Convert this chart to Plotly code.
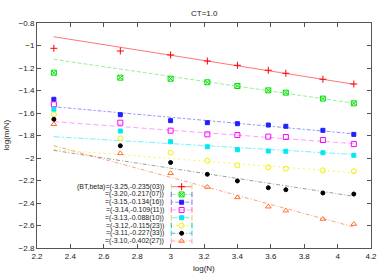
import plotly.graph_objects as go

logN = [2.301, 2.699, 3.0, 3.22, 3.40, 3.585, 3.69, 3.912, 4.097]

red_y = [-1.025, -1.049, -1.084, -1.138, -1.176, -1.220, -1.247, -1.300, -1.342]
green_y = [-1.242, -1.286, -1.295, -1.327, -1.360, -1.399, -1.419, -1.472, -1.514]
blue_y = [-1.478, -1.615, -1.668, -1.686, -1.695, -1.707, -1.718, -1.754, -1.790]
magenta_y = [-1.523, -1.686, -1.757, -1.790, -1.796, -1.810, -1.813, -1.840, -1.876]
cyan_y = [-1.567, -1.760, -1.855, -1.900, -1.926, -1.938, -1.940, -1.953, -1.976]
yellow_y = [-1.612, -1.825, -1.953, -2.024, -2.065, -2.083, -2.095, -2.110, -2.118]
black_y = [-1.656, -1.891, -2.040, -2.145, -2.204, -2.264, -2.282, -2.311, -2.320]
orange_y = [-1.700, -1.959, -2.136, -2.258, -2.350, -2.433, -2.468, -2.542, -2.587]

BT = ["-3.25", "-3.20", "-3.15", "-3.14", "-3.13", "-3.12", "-3.11", "-3.10"]
beta_label = ["-0.235(03)", "-0.217(07)", "-0.134(16)", "-0.109(11)",
              "-0.088(10)", "-0.115(23)", "-0.227(33)", "-0.402(27)"]
beta = [-0.235, -0.217, -0.134, -0.109, -0.088, -0.115, -0.227, -0.402]
intercept = [-0.3815, -0.624, -1.236, -1.426, -1.608, -1.660, -1.410, -0.966]
fit_x = [2.3, 4.1]

series_y = [red_y, green_y, blue_y, magenta_y, cyan_y, yellow_y, black_y, orange_y]
colors = ["#ff0000", "#00e000", "#2020ff", "#ff00ff", "#00e8f0", "#f0f000", "#000000", "#ff7030"]
line_colors = ["rgba(255,60,60,0.7)", "rgba(60,230,60,0.55)", "rgba(60,60,255,0.55)",
               "rgba(255,60,255,0.5)", "rgba(0,230,240,0.55)", "rgba(240,240,0,0.65)",
               "rgba(90,90,90,0.6)", "rgba(255,110,50,0.65)"]
dashes = ["solid", "4px,2px", "2px,2px,4px,2px", "5px,3px", "6px,2px,2px,2px",
          "2px,3px", "4px,2px,1px,2px", "4px,2px,1px,2px"]
symbols = ["cross-thin-open", "square-x-open", "square", "square-open", "square",
           "circle-open", "circle", "triangle-up-open"]
sizes = [5, 5, 4, 5, 4, 5, 4, 5]

fig = go.Figure()

for i in range(len(series_y)):
    fy = [intercept[i] + beta[i] * x for x in fit_x]
    fig.add_trace(go.Scatter(x=fit_x, y=fy, mode="lines",
                             line=dict(color=line_colors[i], width=1, dash=dashes[i]),
                             showlegend=False, hoverinfo="skip"))
    fig.add_trace(go.Scatter(x=logN, y=series_y[i], mode="markers",
                             marker=dict(symbol=symbols[i], size=sizes[i], color=colors[i],
                                         line=dict(color=colors[i], width=1)),
                             showlegend=False))

# manual gnuplot-style legend (text on left, sample on right), drawn on overlay axes
for i in range(len(series_y)):
    fig.add_trace(go.Scatter(x=[0, 1], y=[i, i], mode="lines",
                             line=dict(color=line_colors[i], width=1, dash=dashes[i]),
                             xaxis="x2", yaxis="y2", showlegend=False, hoverinfo="skip"))
    fig.add_trace(go.Scatter(x=[0, 1], y=[i, i], mode="markers",
                             marker=dict(symbol="line-ns-open", size=4,
                                         line=dict(color=line_colors[i], width=1)),
                             xaxis="x2", yaxis="y2", showlegend=False, hoverinfo="skip"))
    fig.add_trace(go.Scatter(x=[0.5], y=[i], mode="markers",
                             marker=dict(symbol=symbols[i], size=sizes[i], color=colors[i],
                                         line=dict(color=colors[i], width=1)),
                             xaxis="x2", yaxis="y2", showlegend=False, hoverinfo="skip"))
    prefix = "(BT,beta)=" if i == 0 else "="
    fig.add_annotation(text=f"{prefix}({BT[i]},{beta_label[i]})", xref="paper", yref="y2",
                       x=0.3876, y=i, xanchor="right", yanchor="middle", showarrow=False,
                       font=dict(size=7, color="#222222"))

axis_common = dict(showgrid=False, zeroline=False, showline=True, linecolor="#555555",
                   linewidth=1, mirror="allticks", ticks="inside", ticklen=4,
                   tickcolor="#555555", tickfont=dict(size=8, color="#222222"))

fig.update_layout(
    width=389, height=273,
    margin=dict(l=37, r=14, t=23, b=25),
    plot_bgcolor="white", paper_bgcolor="white",
    font=dict(family="Liberation Sans, Arial, sans-serif", size=8, color="#222222"),
    xaxis=dict(range=[2.2, 4.2], dtick=0.2, tick0=2.2, tickformat="~g", **axis_common),
    yaxis=dict(range=[-2.8, -0.8], dtick=0.2, tick0=-2.8, tickformat="~g", **axis_common),
    xaxis2=dict(range=[-6.484, 9.645], overlaying="x", anchor="y", visible=False,
                fixedrange=True),
    yaxis2=dict(range=[7.9, -21.1], overlaying="y", anchor="x", visible=False,
                fixedrange=True),
    showlegend=False,
)

fig.add_annotation(text="CT=1.0", xref="paper", yref="paper", x=0.5, y=1,
                   yshift=10, showarrow=False, font=dict(size=8), yanchor="middle")
fig.add_annotation(text="log(N)", xref="paper", yref="paper", x=0.5, y=0,
                   yshift=-20, showarrow=False, font=dict(size=8), yanchor="middle")
fig.add_annotation(text="log(m/N)", xref="paper", yref="paper", x=0, y=0.5,
                   xshift=-31, textangle=-90, showarrow=False, font=dict(size=8),
                   xanchor="center", yanchor="middle")

fig.write_html("out.html", config={"displayModeBar": False},
               post_script="document.body.style.margin='0';")
